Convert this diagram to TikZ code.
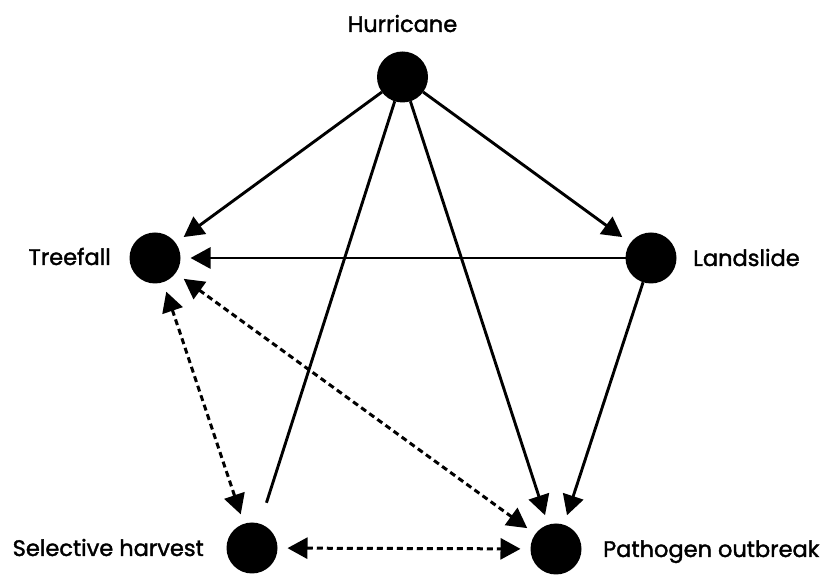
\documentclass[tikz,border=0pt]{standalone}
\usepackage{fontspec}
\setmainfont{Poppins}
\newfontfamily\lblfont{Poppins}[FakeBold=1.6]
\usetikzlibrary{arrows.meta}
\tikzset{
  dot/.style={circle,fill=black,minimum size=51pt,inner sep=0pt,outer sep=0pt},
  lbl/.style={inner sep=0pt,font=\lblfont\fontsize{22.5}{26}\selectfont},
  link/.style={line width=2.9pt},
  tip/.tip={Triangle[length=20pt,width=21pt]},
  arr/.style={link,-tip,shorten >=10pt},
  darr/.style={line width=3pt,dash pattern=on 6pt off 4pt,tip-tip,shorten >=10pt,shorten <=10pt}
}
\begin{document}
\begin{tikzpicture}[x=1pt,y=1pt]
\useasboundingbox (0,0) rectangle (824,575);
\node[dot] (H) at (402.5,498) {};
\node[dot] (T) at (155,317) {};
\node[dot] (L) at (651,317) {};
\node[dot] (S) at (252,27) {};
\node[dot] (P) at (556,26) {};
\node[lbl,anchor=base] (tH) at (402.5,543) {Hurricane};
\node[lbl,anchor=base east] (tT) at (111,310) {Treefall};
\node[lbl,anchor=base west] (tL) at (693,309) {Landslide};
\node[lbl,anchor=base east] (tS) at (204,19) {Selective harvest};
\node[lbl,anchor=base west] (tP) at (603,18) {Pathogen outbreak};
\draw[arr] (H) -- (T);
\draw[arr] (H) -- (L);
\draw[arr] (H) -- (P);
\draw[link,shorten >=22pt] (H) -- (S);
\draw[arr] (L) -- (T);
\draw[arr] (L) -- (P);
\draw[darr] (T) -- (S);
\draw[darr] (T) -- (P);
\draw[darr] (S) -- (P);
\end{tikzpicture}
\end{document}
